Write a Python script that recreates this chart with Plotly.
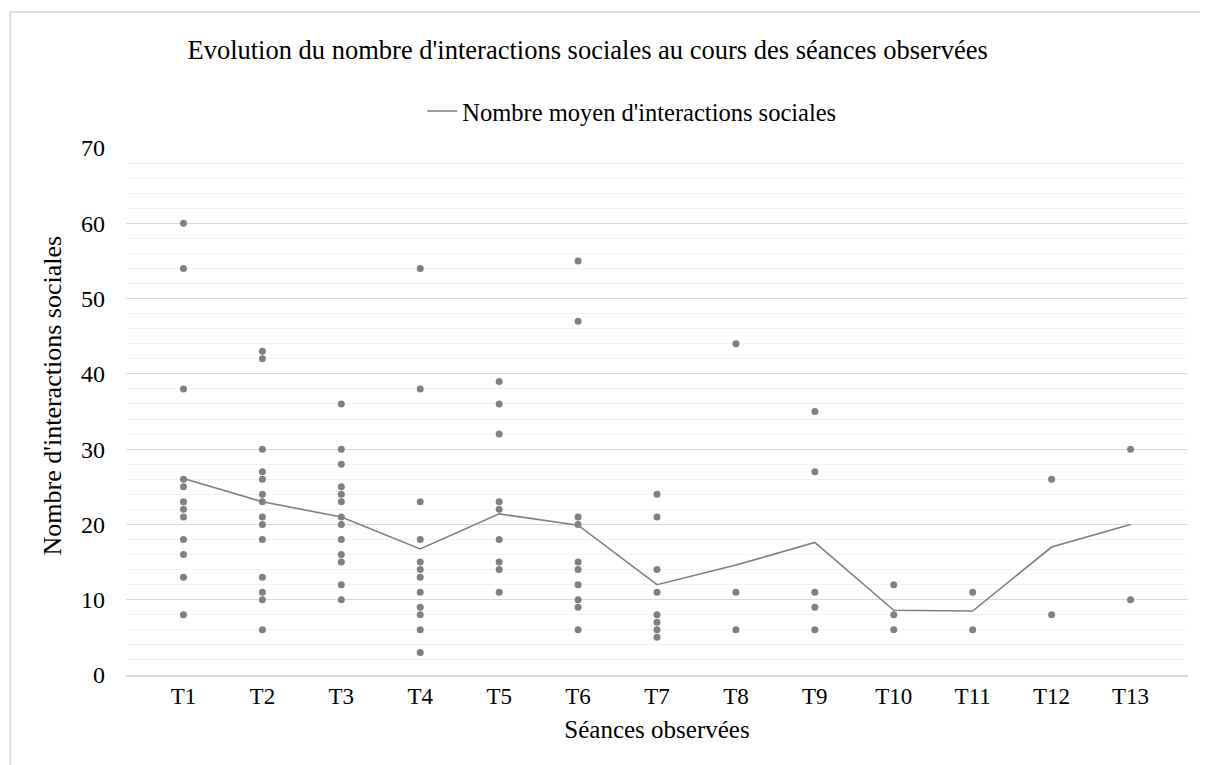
import plotly.graph_objects as go

seances = ["T1", "T2", "T3", "T4", "T5", "T6", "T7", "T8", "T9", "T10", "T11", "T12", "T13"]

t1 = [60, 54, 38, 26, 25, 23, 22, 21, 18, 16, 13, 8]
t2 = [43, 42, 30, 27, 26, 24, 23, 21, 20, 18, 13, 11, 10, 6]
t3 = [36, 30, 28, 25, 24, 23, 21, 20, 18, 16, 15, 12, 10]
t4 = [54, 38, 23, 18, 15, 14, 13, 11, 9, 8, 6, 3]
t5 = [39, 36, 32, 23, 22, 18, 15, 14, 11]
t6 = [55, 47, 21, 20, 15, 14, 12, 10, 9, 6]
t7 = [24, 21, 14, 11, 8, 7, 6, 5]
t8 = [44, 11, 6]
t9 = [35, 27, 11, 9, 6]
t10 = [12, 8, 6]
t11 = [11, 6]
t12 = [26, 8]
t13 = [30, 10]

moyenne = [26.1, 23, 21, 16.75, 21.4, 19.9, 12, 14.6, 17.6, 8.6, 8.5, 17, 20]

groupes = [t1, t2, t3, t4, t5, t6, t7, t8, t9, t10, t11, t12, t13]
pts_x = []
pts_y = []
for s, vals in zip(seances, groupes):
    pts_x += [s] * len(vals)
    pts_y += vals

font = "Liberation Serif, Times New Roman, serif"
grey = "#808080"

fig = go.Figure()
fig.add_trace(go.Scatter(
    x=pts_x, y=pts_y, mode="markers",
    marker=dict(color=grey, size=7),
    showlegend=False, hoverinfo="x+y",
))
fig.add_trace(go.Scatter(
    x=seances, y=moyenne, mode="lines",
    line=dict(color="#7f7f7f", width=1.6),
    name="Nombre moyen d'interactions sociales",
))

# la page html ajoute une marge de 8px autour de la figure
fig.update_layout(
    width=1200, height=757,
    margin=dict(l=118, r=20, t=140, b=90),
    paper_bgcolor="white", plot_bgcolor="white",
    font=dict(family=font, size=24, color="#000000"),
    title=dict(
        text="Evolution du nombre d'interactions sociales au cours des séances observées",
        x=0.483, xanchor="center", y=0.945, yanchor="middle",
        font=dict(family=font, size=26.5, color="#000000"),
    ),
    legend=dict(
        orientation="h", x=0.279, xanchor="left", y=1.07, yanchor="middle",
        font=dict(family=font, size=24.5),
    ),
    shapes=[dict(
        type="rect", xref="paper", yref="paper",
        x0=-0.109, x1=1.1, y0=-0.4, y1=1.258,
        line=dict(color="#d9d9d9", width=1.5),
    )],
    annotations=[dict(
        text="Nombre d'interactions sociales", textangle=-90,
        xref="paper", yref="paper", x=-0.069, y=0.53,
        xanchor="center", yanchor="middle", showarrow=False,
        font=dict(family=font, size=26),
    )],
)

fig.update_xaxes(
    type="category", showgrid=False, zeroline=False,
    showline=True, linecolor="#d9d9d9", linewidth=1.5,
    ticks="", tickfont=dict(family=font, size=23),
    title=dict(text="Séances observées", font=dict(family=font, size=25), standoff=12),
)
fig.update_yaxes(
    range=[0, 70], dtick=10, showgrid=True, gridcolor="#d9d9d9", gridwidth=1.2,
    zeroline=False, showline=False, ticks="",
    minor=dict(dtick=2, showgrid=True, gridcolor="#f2f2f2", gridwidth=1),
    tickfont=dict(family=font, size=24), ticklabelstandoff=20,
)

fig.write_html("out.html")
